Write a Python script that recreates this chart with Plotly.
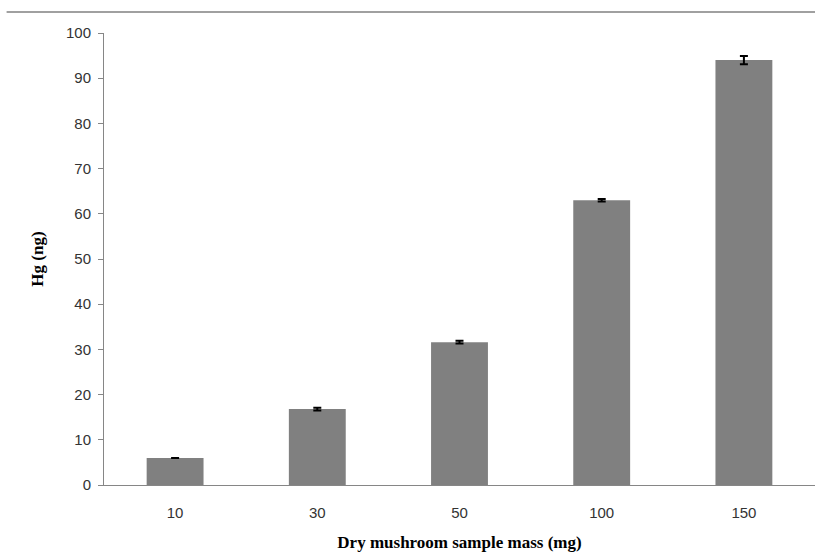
import plotly.graph_objects as go

categories = ["10", "30", "50", "100", "150"]
values = [6.0, 16.8, 31.6, 63.0, 94.0]
errors = [None, 0.3, 0.3, 0.3, 0.9]
y_ticks = [0, 10, 20, 30, 40, 50, 60, 70, 80, 90, 100]

fig = go.Figure()
fig.add_trace(go.Bar(
    x=categories, y=values,
    marker=dict(color="#808080", line=dict(width=0)),
    error_y=dict(type="data", array=errors, visible=True, color="black", thickness=2, width=4),
))

fig.update_layout(
    width=815, height=560,
    margin=dict(l=104, r=0, t=33, b=75),
    paper_bgcolor="white", plot_bgcolor="white",
    bargap=0.6,
    showlegend=False,
    font=dict(family="Liberation Sans, Arial", color="#404040", size=13),
    shapes=[dict(type="line", xref="paper", yref="paper", x0=-0.137, x1=1.0, y0=1.0465, y1=1.0465,
                 line=dict(color="#808080", width=1.5))],
)
fig.update_xaxes(
    type="category",
    showline=True, linecolor="#868686", linewidth=1,
    ticks="", showgrid=False,
    ticklabelstandoff=14,
    tickfont=dict(size=15, color="#333333", family="Liberation Sans, Arial"),
    title=dict(text="Dry mushroom sample mass (mg)",
               font=dict(family="Liberation Serif, Times New Roman", size=17, color="black", weight="bold"),
               standoff=16),
)
fig.update_yaxes(
    range=[0, 100],
    tickvals=y_ticks,
    showline=True, linecolor="#868686", linewidth=1,
    ticks="outside", ticklen=5, tickcolor="#868686",
    ticklabelstandoff=4,
    showgrid=False, zeroline=False,
    tickfont=dict(size=15, color="#333333", family="Liberation Sans, Arial"),
    title=dict(text="Hg (ng)",
               font=dict(family="Liberation Serif, Times New Roman", size=17, color="black", weight="bold"),
               standoff=18),
)

fig.write_html("out.html")
